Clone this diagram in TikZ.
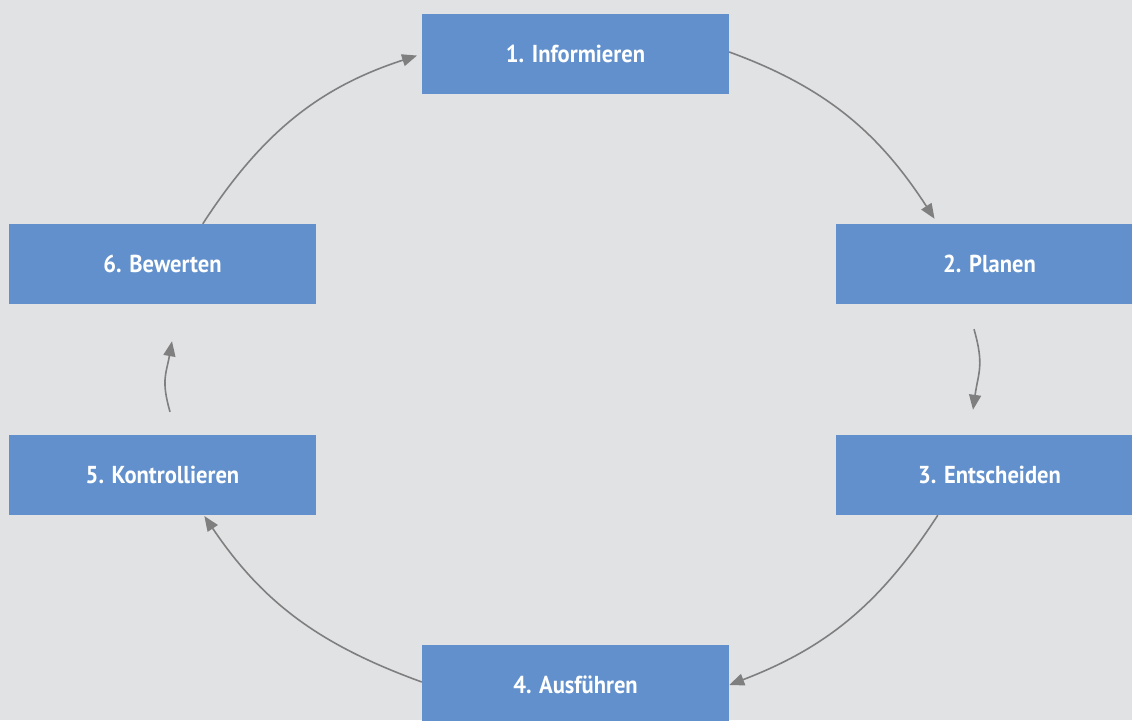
\documentclass[tikz,border=0pt]{standalone}
\usepackage{fontspec}
\setmainfont{PT Sans}[FakeStretch=0.92]
\usetikzlibrary{arrows.meta}
\definecolor{bgcol}{HTML}{E1E2E4}
\definecolor{boxblue}{HTML}{6190CC}
\definecolor{arrowgray}{HTML}{7F7F7F}
\begin{document}
\begin{tikzpicture}[x=1pt,y=1pt,
  stepbox/.style={fill=boxblue, draw=none, minimum width=307pt, minimum height=80pt,
    inner sep=0pt, text=white, font=\fontsize{24.5}{27}\selectfont\bfseries},
  flow/.style={draw=arrowgray, line width=1.6pt,
    -{Triangle[length=15pt,width=12pt]}}]
  % canvas
  \useasboundingbox (0,0) rectangle (1132,720);
  \clip (0,0) rectangle (1132,720);
  \fill[bgcol] (0,0) rectangle (1132,720);

  % the six steps
  \node[stepbox] (n1) at (575.5,666) {1. Informieren};
  \node[stepbox] (n2) at (989.5,456) {2. Planen};
  \node[stepbox] (n3) at (989.5,245) {3. Entscheiden};
  \node[stepbox] (n4) at (575.5,35)  {4. Ausführen};
  \node[stepbox] (n5) at (162.5,245) {5. Kontrollieren};
  \node[stepbox] (n6) at (162.5,456) {6. Bewerten};

  % free ends of the short arrows
  \coordinate (a23) at ([xshift=-15.5pt,yshift=-25pt]n2.south);
  \coordinate (b23) at ([xshift=-16.5pt,yshift=25pt]n3.north);
  \coordinate (a56) at ([xshift=7.5pt,yshift=23pt]n5.north);
  \coordinate (b56) at ([xshift=9.5pt,yshift=-37pt]n6.south);

  % cycle
  \draw[flow, shorten >=6pt] ([yshift=2pt]n1.east) to[out=-20, in=123]
    ([xshift=102pt]n2.north west);
  \draw[flow] (a23) to[out=-74, in=82, looseness=1.2] (b23);
  \draw[flow] ([xshift=102pt]n3.south west) to[out=-123, in=21] (n4.east);
  \draw[flow, shorten >=1pt] ([yshift=3pt]n4.west) to[out=160, in=-56]
    ([xshift=195pt]n5.south west);
  \draw[flow] (a56) to[out=106, in=-100, looseness=1.2] (b56);
  \draw[flow, shorten >=5pt] ([xshift=194pt]n6.north west) to[out=57, in=198] (n1.west);
\end{tikzpicture}
\end{document}
